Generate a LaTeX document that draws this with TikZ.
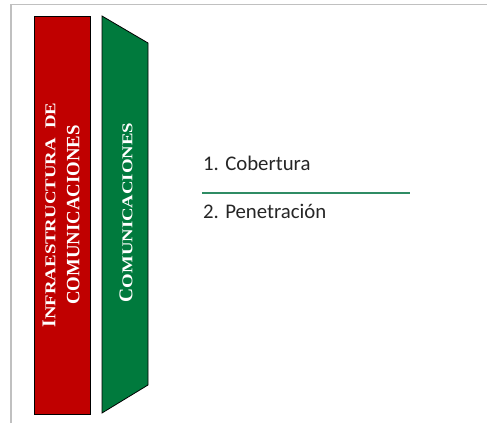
\documentclass[tikz,border=0pt]{standalone}
\usepackage{fontspec}
\newfontfamily\carl{Carlito}
\newfontfamily\bandserif{Liberation Serif}
\definecolor{infrared}{HTML}{C00000}
\definecolor{comgreen}{HTML}{007A3D}
\definecolor{linegreen}{HTML}{2F8C64}
\definecolor{framegrey}{HTML}{C0C0C0}
\definecolor{txtgrey}{HTML}{262626}
\newcommand\bandcapl[1]{{\fontsize{19.5}{24}\selectfont #1}}
\newcommand\bandcaps[1]{{\fontsize{15}{24}\selectfont\scalebox{1.25}[1]{#1}}}
\tikzset{
  bandtext/.style={text=white, rotate=90, align=center, inner sep=0pt,
    font=\bandserif\bfseries\fontsize{18.8}{24}\selectfont},
  itemtext/.style={anchor=base west, inner sep=0pt, text=txtgrey,
    font=\carl\fontsize{20.8}{24}\selectfont},
  band/.style={draw=black, line width=0.8pt}
}
\begin{document}
\begin{tikzpicture}[x=1pt,y=-1pt]
\useasboundingbox (0,0) rectangle (487,423);
\draw[framegrey, line width=1.5pt] (10.8,423) coordinate (fbl) -- (10.8,4.6) coordinate (ftl) -- (487,4.6) coordinate (ftr);
\path[band, fill=infrared] (34,16) rectangle (90,414);
\path[band, fill=comgreen] (102,16) -- (148,43) -- (148,385) -- (102,413) -- cycle;
\node[bandtext] (infra) at (61,215) {\bandcapl{I}\bandcaps{NFRAESTRUCTURA\ \ DE}\\COMUNICACIONES};
\node[bandtext] (com) at (126,212.5) {\bandcapl{C}\bandcaps{OMUNICACIONES}};
\node[itemtext] (cob) at (203,170.5) {1. Cobertura};
\node[itemtext] (pen) at (203,218.5) {2. Penetración};
\coordinate (l1) at (202,193);
\coordinate (l2) at (410,193);
\draw[linegreen, line width=1.6pt] (l1) -- (l2);
\end{tikzpicture}
\end{document}
